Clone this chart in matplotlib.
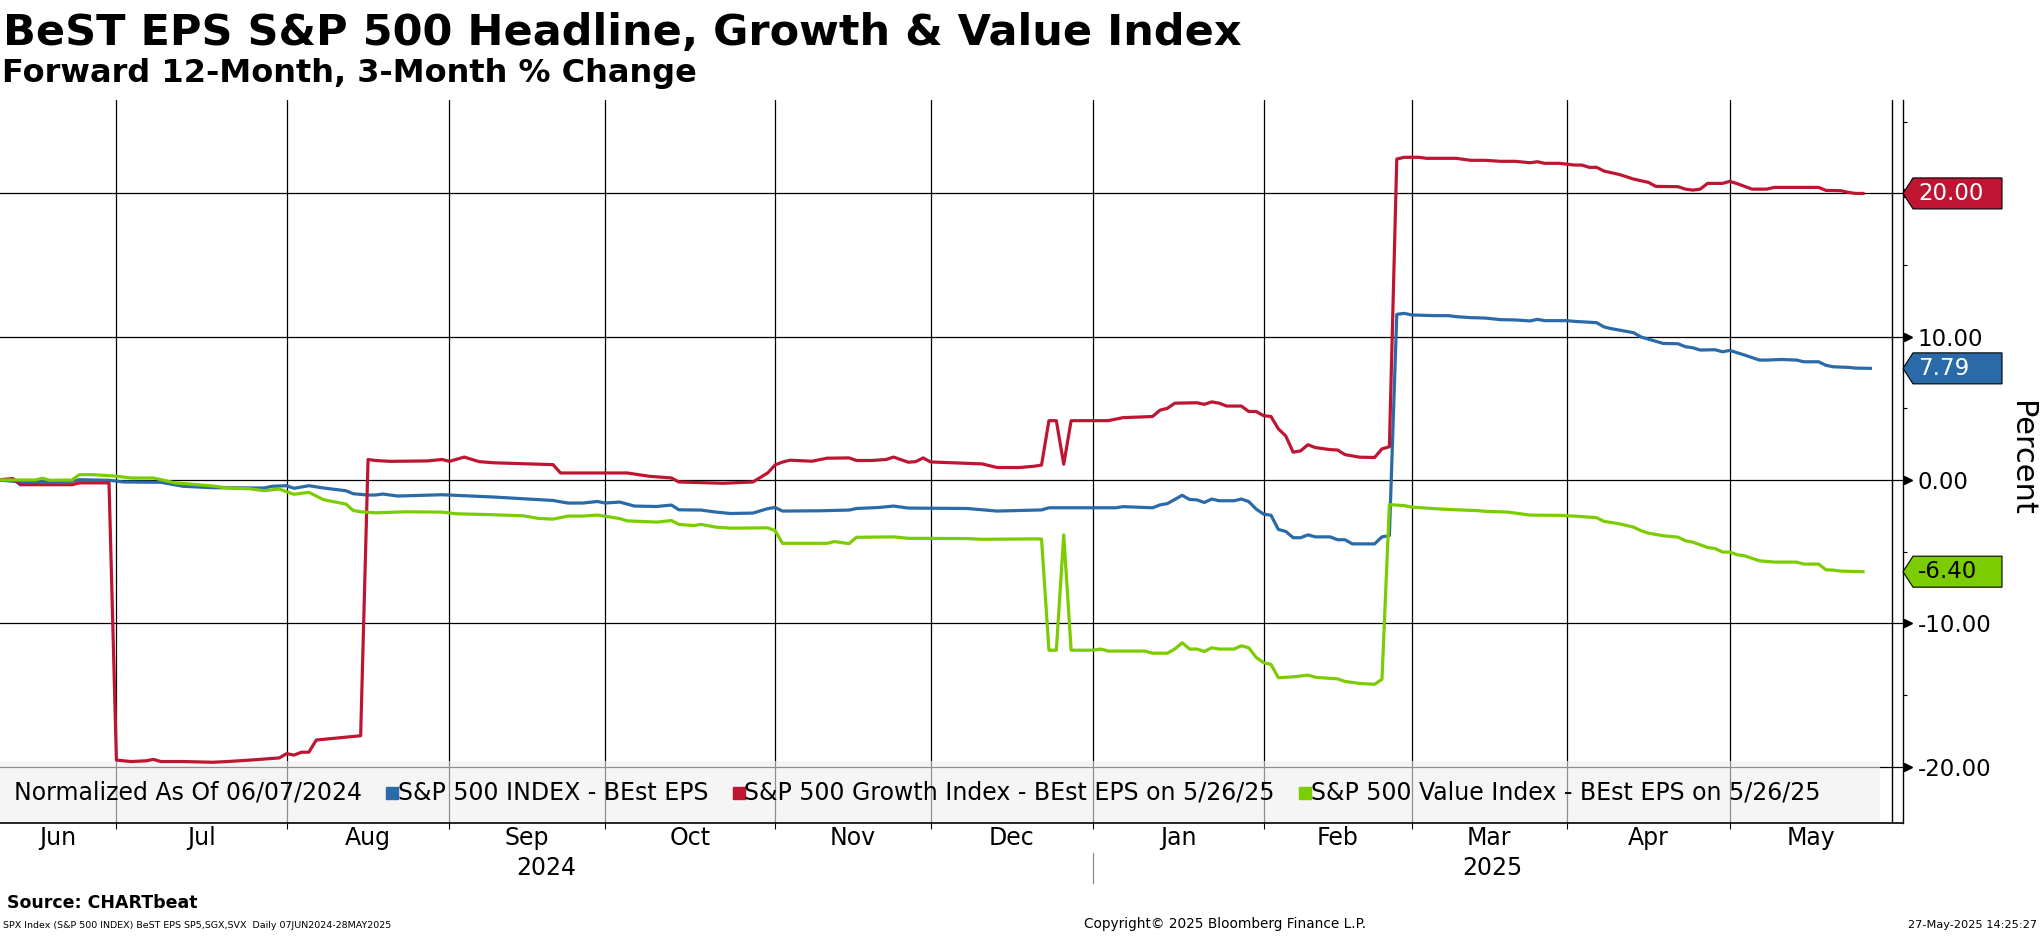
import numpy as np
import matplotlib

matplotlib.use("Agg")
import matplotlib.pyplot as plt
from matplotlib.patches import Polygon, Rectangle
from matplotlib.transforms import IdentityTransform, blended_transform_factory

START = "2024-06-07"

# S&P 500 INDEX - BEst EPS (normalized, % change)
spx_dates = [
    "2024-06-07", "2024-06-11", "2024-06-12", "2024-06-21", "2024-06-24", "2024-06-28",
    "2024-07-02", "2024-07-09", "2024-07-12", "2024-07-18", "2024-07-29", "2024-07-30",
    "2024-08-01", "2024-08-02", "2024-08-06", "2024-08-08", "2024-08-13", "2024-08-14",
    "2024-08-16", "2024-08-19", "2024-08-20", "2024-08-22", "2024-08-30", "2024-09-10",
    "2024-09-20", "2024-09-24", "2024-09-26", "2024-09-30", "2024-10-01", "2024-10-03",
    "2024-10-07", "2024-10-10", "2024-10-14", "2024-10-15", "2024-10-18", "2024-10-22",
    "2024-10-24", "2024-10-29", "2024-10-31", "2024-11-01", "2024-11-04", "2024-11-11",
    "2024-11-15", "2024-11-18", "2024-11-21", "2024-11-25", "2024-11-27", "2024-12-09",
    "2024-12-13", "2024-12-18", "2024-12-23", "2024-12-24", "2025-01-06", "2025-01-07",
    "2025-01-13", "2025-01-14", "2025-01-15", "2025-01-17", "2025-01-20", "2025-01-21",
    "2025-01-22", "2025-01-23", "2025-01-24", "2025-01-28", "2025-01-29", "2025-01-30",
    "2025-01-31", "2025-02-03", "2025-02-04", "2025-02-05", "2025-02-06", "2025-02-07",
    "2025-02-10", "2025-02-11", "2025-02-12", "2025-02-14", "2025-02-17", "2025-02-18",
    "2025-02-19", "2025-02-24", "2025-02-25", "2025-02-26", "2025-02-27", "2025-02-28",
    "2025-03-03", "2025-03-06", "2025-03-10", "2025-03-11", "2025-03-13", "2025-03-17",
    "2025-03-19", "2025-03-21", "2025-03-25", "2025-03-26", "2025-03-27", "2025-04-01",
    "2025-04-02", "2025-04-07", "2025-04-08", "2025-04-09", "2025-04-14", "2025-04-15",
    "2025-04-18", "2025-04-22", "2025-04-23", "2025-04-24", "2025-04-25", "2025-04-29",
    "2025-04-30", "2025-05-01", "2025-05-02", "2025-05-05", "2025-05-07", "2025-05-08",
    "2025-05-12", "2025-05-14", "2025-05-15", "2025-05-19", "2025-05-20", "2025-05-21",
    "2025-05-23", "2025-05-26", "2025-05-27", "2025-05-28",
]
spx_values = [
    0.00, -0.09, -0.14, -0.09, 0.02, -0.02,
    -0.14, -0.16, -0.44, -0.54, -0.56, -0.44,
    -0.40, -0.58, -0.40, -0.56, -0.75, -0.96,
    -1.05, -1.05, -0.98, -1.12, -1.03, -1.19,
    -1.43, -1.61, -1.61, -1.50, -1.61, -1.54,
    -1.82, -1.85, -1.75, -2.08, -2.10, -2.24,
    -2.34, -2.31, -2.00, -1.92, -2.17, -2.15,
    -2.10, -1.99, -1.92, -1.82, -1.96, -1.99,
    -2.17, -2.13, -2.09, -1.94, -1.94, -1.86,
    -1.94, -1.74, -1.65, -1.07, -1.36, -1.39,
    -1.57, -1.33, -1.45, -1.45, -1.33, -1.51,
    -2.03, -2.38, -2.46, -3.45, -3.59, -4.03,
    -4.03, -3.83, -3.97, -3.97, -4.17, -4.17,
    -4.46, -4.46, -3.97, -3.88, 11.56, 11.63,
    11.52, 11.47, 11.47, 11.40, 11.33, 11.30,
    11.19, 11.17, 11.10, 11.21, 11.12, 11.12,
    11.07, 10.98, 10.68, 10.56, 10.28, 9.98,
    9.53, 9.51, 9.30, 9.23, 9.07, 9.09,
    8.95, 9.04, 8.88, 8.72, 8.37, 8.37,
    8.41, 8.37, 8.25, 8.25, 8.00, 7.90,
    7.86, 7.81, 7.80, 7.79,
]

# S&P 500 Growth Index - BEst EPS
growth_dates = [
    "2024-06-07", "2024-06-11", "2024-06-12", "2024-06-21", "2024-06-24", "2024-06-28",
    "2024-07-01", "2024-07-03", "2024-07-05", "2024-07-08", "2024-07-09", "2024-07-12",
    "2024-07-18", "2024-07-22", "2024-07-25", "2024-07-31", "2024-08-01", "2024-08-02",
    "2024-08-05", "2024-08-06", "2024-08-07", "2024-08-12", "2024-08-15", "2024-08-16",
    "2024-08-19", "2024-08-21", "2024-08-28", "2024-08-30", "2024-09-02", "2024-09-04",
    "2024-09-06", "2024-09-10", "2024-09-20", "2024-09-23", "2024-10-04", "2024-10-09",
    "2024-10-14", "2024-10-15", "2024-10-23", "2024-10-29", "2024-10-31", "2024-11-01",
    "2024-11-04", "2024-11-05", "2024-11-08", "2024-11-12", "2024-11-15", "2024-11-18",
    "2024-11-20", "2024-11-22", "2024-11-25", "2024-11-27", "2024-11-28", "2024-11-29",
    "2024-12-02", "2024-12-11", "2024-12-13", "2024-12-18", "2024-12-20", "2024-12-23",
    "2024-12-24", "2024-12-25", "2024-12-26", "2024-12-27", "2025-01-03", "2025-01-07",
    "2025-01-13", "2025-01-14", "2025-01-15", "2025-01-16", "2025-01-21", "2025-01-22",
    "2025-01-23", "2025-01-24", "2025-01-27", "2025-01-29", "2025-01-30", "2025-01-31",
    "2025-02-03", "2025-02-04", "2025-02-05", "2025-02-06", "2025-02-07", "2025-02-10",
    "2025-02-11", "2025-02-12", "2025-02-14", "2025-02-17", "2025-02-18", "2025-02-20",
    "2025-02-24", "2025-02-25", "2025-02-26", "2025-02-27", "2025-02-28", "2025-03-04",
    "2025-03-05", "2025-03-11", "2025-03-13", "2025-03-17", "2025-03-19", "2025-03-21",
    "2025-03-25", "2025-03-26", "2025-03-27", "2025-03-31", "2025-04-02", "2025-04-03",
    "2025-04-04", "2025-04-07", "2025-04-08", "2025-04-10", "2025-04-11", "2025-04-14",
    "2025-04-16", "2025-04-17", "2025-04-22", "2025-04-23", "2025-04-24", "2025-04-25",
    "2025-04-28", "2025-04-30", "2025-05-01", "2025-05-02", "2025-05-06", "2025-05-08",
    "2025-05-09", "2025-05-19", "2025-05-20", "2025-05-22", "2025-05-23", "2025-05-26",
    "2025-05-27",
]
growth_values = [
    0.00, 0.10, -0.33, -0.33, -0.20, -0.20,
    -19.55, -19.65, -19.60, -19.50, -19.65, -19.65,
    -19.70, -19.65, -19.55, -19.40, -19.10, -19.20,
    -19.00, -19.00, -18.15, -18.00, -17.85, 1.43,
    1.36, 1.30, 1.33, 1.43, 1.30, 1.60,
    1.28, 1.20, 1.07, 0.49, 0.49, 0.26,
    0.14, -0.14, -0.23, -0.14, 0.49, 1.05,
    1.25, 1.38, 1.31, 1.52, 1.54, 1.36,
    1.36, 1.43, 1.60, 1.24, 1.28, 1.54,
    1.26, 1.12, 0.87, 0.87, 0.96, 1.04,
    4.14, 4.14, 1.10, 4.14, 4.14, 4.35,
    4.43, 4.87, 5.00, 5.36, 5.39, 5.28,
    5.45, 5.36, 5.16, 5.16, 4.78, 4.78,
    4.49, 4.43, 3.57, 3.07, 1.94, 2.03,
    2.46, 2.26, 2.12, 2.09, 1.77, 1.59,
    1.57, 2.17, 2.32, 22.40, 22.52, 22.52,
    22.45, 22.45, 22.31, 22.31, 22.24, 22.24,
    22.14, 22.21, 22.10, 22.10, 21.98, 21.98,
    21.82, 21.82, 21.56, 21.33, 21.17, 21.00,
    20.77, 20.49, 20.47, 20.30, 20.23, 20.30,
    20.70, 20.70, 20.84, 20.68, 20.30, 20.30,
    20.42, 20.42, 20.21, 20.19, 20.07, 20.00,
    20.00,
]

# S&P 500 Value Index - BEst EPS
value_dates = [
    "2024-06-07", "2024-06-14", "2024-06-17", "2024-06-18", "2024-06-21", "2024-06-24",
    "2024-06-26", "2024-06-28", "2024-07-01", "2024-07-03", "2024-07-08", "2024-07-11",
    "2024-07-16", "2024-07-18", "2024-07-22", "2024-07-25", "2024-07-29", "2024-07-31",
    "2024-08-02", "2024-08-06", "2024-08-08", "2024-08-13", "2024-08-14", "2024-08-15",
    "2024-08-19", "2024-08-23", "2024-08-30", "2024-09-03", "2024-09-09", "2024-09-16",
    "2024-09-18", "2024-09-20", "2024-09-24", "2024-09-26", "2024-09-30", "2024-10-03",
    "2024-10-04", "2024-10-10", "2024-10-14", "2024-10-15", "2024-10-17", "2024-10-18",
    "2024-10-22", "2024-10-24", "2024-10-31", "2024-11-01", "2024-11-04", "2024-11-12",
    "2024-11-13", "2024-11-15", "2024-11-18", "2024-11-25", "2024-11-27", "2024-12-09",
    "2024-12-11", "2024-12-20", "2024-12-23", "2024-12-24", "2024-12-25", "2024-12-26",
    "2024-12-27", "2025-01-01", "2025-01-02", "2025-01-03", "2025-01-10", "2025-01-13",
    "2025-01-15", "2025-01-16", "2025-01-17", "2025-01-20", "2025-01-21", "2025-01-22",
    "2025-01-23", "2025-01-24", "2025-01-28", "2025-01-29", "2025-01-30", "2025-01-31",
    "2025-02-03", "2025-02-04", "2025-02-05", "2025-02-07", "2025-02-11", "2025-02-12",
    "2025-02-17", "2025-02-18", "2025-02-20", "2025-02-24", "2025-02-25", "2025-02-26",
    "2025-02-28", "2025-03-03", "2025-03-05", "2025-03-07", "2025-03-12", "2025-03-14",
    "2025-03-17", "2025-03-20", "2025-03-21", "2025-03-25", "2025-03-31", "2025-04-02",
    "2025-04-07", "2025-04-08", "2025-04-10", "2025-04-14", "2025-04-15", "2025-04-16",
    "2025-04-18", "2025-04-22", "2025-04-23", "2025-04-24", "2025-04-28", "2025-04-29",
    "2025-04-30", "2025-05-01", "2025-05-02", "2025-05-05", "2025-05-07", "2025-05-09",
    "2025-05-14", "2025-05-15", "2025-05-19", "2025-05-20", "2025-05-21", "2025-05-22",
    "2025-05-27",
]
value_values = [
    0.00, 0.00, 0.12, -0.02, 0.00, 0.37,
    0.37, 0.30, 0.26, 0.14, 0.14, -0.21,
    -0.33, -0.42, -0.56, -0.61, -0.75, -0.63,
    -1.00, -0.86, -1.38, -1.68, -2.13, -2.22,
    -2.29, -2.22, -2.24, -2.36, -2.41, -2.50,
    -2.68, -2.73, -2.52, -2.52, -2.45, -2.69,
    -2.85, -2.94, -2.83, -3.10, -3.18, -3.10,
    -3.29, -3.36, -3.34, -3.53, -4.42, -4.42,
    -4.30, -4.44, -4.00, -3.97, -4.07, -4.09,
    -4.14, -4.11, -4.12, -11.88, -11.88, -3.83,
    -11.88, -11.88, -11.80, -11.94, -11.94, -12.09,
    -12.09, -11.80, -11.36, -11.80, -11.80, -11.97,
    -11.71, -11.80, -11.80, -11.57, -11.71, -12.38,
    -12.75, -12.87, -13.80, -13.74, -13.62, -13.77,
    -13.88, -14.06, -14.20, -14.26, -13.91, -1.72,
    -1.79, -1.89, -1.96, -2.03, -2.10, -2.14,
    -2.19, -2.24, -2.31, -2.45, -2.47, -2.52,
    -2.63, -2.89, -3.05, -3.29, -3.54, -3.71,
    -3.89, -3.99, -4.24, -4.34, -4.71, -4.78,
    -5.03, -5.03, -5.22, -5.29, -5.64, -5.73,
    -5.73, -5.87, -5.87, -6.27, -6.29, -6.36,
    -6.40,
]

series_names = [
    "S&P 500 INDEX - BEst EPS",
    "S&P 500 Growth Index - BEst EPS on 5/26/25",
    "S&P 500 Value Index - BEst EPS on 5/26/25",
]
month_starts = [
    "2024-07-01", "2024-08-01", "2024-09-01", "2024-10-01", "2024-11-01", "2024-12-01",
    "2025-01-01", "2025-02-01", "2025-03-01", "2025-04-01", "2025-05-01",
]
month_labels = ["Jun", "Jul", "Aug", "Sep", "Oct", "Nov", "Dec", "Jan", "Feb", "Mar", "Apr", "May"]
year_labels = ["2024", "2025"]
y_ticks = [-20, -10, 0, 10, 20]
y_minor = [-15, -5, 5, 15, 25]

BLUE = "#2A6AA9"
RED = "#BE1632"
GREEN = "#7BCC00"


def pos(dates):
    # x axis runs on weekdays, counted from the normalisation date
    return np.busday_count(START, np.array(dates, dtype="datetime64[D]"))


W, H = 2041, 936
fig = plt.figure(figsize=(W / 100, H / 100), dpi=100)
plt.rcParams["font.family"] = ["DejaVu Sans"]

ax_left, ax_right, ax_top, ax_bottom = 0, 1903, 100, 823
ax = fig.add_axes([ax_left / W, 1 - ax_bottom / H, (ax_right - ax_left) / W, (ax_bottom - ax_top) / H])
x_lo, x_hi = 0.27, 257.4
frame_x = 255.9
ax.set_xlim(x_lo, x_hi)
ax.set_ylim(-23.94, 26.52)

for s in ["left", "top"]:
    ax.spines[s].set_visible(False)
ax.spines["right"].set_linewidth(1.0)
ax.spines["bottom"].set_linewidth(1.2)

month_pos = pos(month_starts)
for p in month_pos:
    ax.axvline(p, color="black", lw=0.9, zorder=1)
for v in y_ticks:
    ax.axhline(v, color="black", lw=0.9, zorder=1)
ax.axvline(frame_x, color="black", lw=1.0, zorder=1)

ax.plot(pos(spx_dates), spx_values, color=BLUE, lw=2.3, zorder=3)
ax.plot(pos(growth_dates), growth_values, color=RED, lw=2.3, zorder=3)
ax.plot(pos(value_dates), value_values, color=GREEN, lw=2.3, zorder=3)

# y axis on the right
ax.yaxis.tick_right()
ax.set_yticks(y_ticks)
ax.set_yticklabels([f"{v:.2f}" for v in y_ticks])
ax.set_yticks(y_minor, minor=True)
ax.tick_params(axis="y", which="major", length=0, pad=10.5, labelsize=16.5)
ax.tick_params(axis="y", which="minor", length=3, width=0.8, direction="out")
axw = ax_right - ax_left
yblend = blended_transform_factory(ax.transAxes, ax.transData)
ax.plot([1 + 5 / axw] * len(y_ticks), y_ticks, ls="none", marker=">", ms=6, color="black",
        transform=yblend, clip_on=False, zorder=5)

# x axis: ticks at month starts, labels in between
ax.set_xticks(month_pos)
ax.set_xticklabels([])
ax.tick_params(axis="x", which="major", length=4, width=0.8, direction="out")
edges = [x_lo] + list(month_pos) + [frame_x]
xblend = blended_transform_factory(ax.transData, ax.transAxes)
axh = ax_bottom - ax_top
for i, lab in enumerate(month_labels):
    ax.text((edges[i] + edges[i + 1]) / 2, -15 / axh, lab, transform=xblend,
            ha="center", va="center", fontsize=17)
jan = pos(["2025-01-01"])[0]
ax.text((x_lo + jan) / 2, -45 / axh, year_labels[0], transform=xblend, ha="center", va="center", fontsize=17)
ax.text((jan + frame_x) / 2, -45 / axh, year_labels[1], transform=xblend, ha="center", va="center", fontsize=17)
ax.plot([jan, jan], [-30 / axh, -60 / axh], color="#808080", lw=0.8, transform=xblend, clip_on=False)

# legend strip inside the bottom of the plot
leg_h = (ax_bottom - 761) / axh
ax.add_patch(Rectangle((0, 0), 1880 / axw, leg_h, transform=ax.transAxes, facecolor="#efefef",
                       edgecolor="none", alpha=0.6, zorder=2))
renderer = fig.canvas.get_renderer()
leg_tr = blended_transform_factory(IdentityTransform(), ax.transAxes)
leg_y = (ax_bottom - 793) / axh
t = ax.text(14, leg_y, "Normalized As Of 06/07/2024", transform=leg_tr, va="center", fontsize=17, zorder=4)
cursor = t.get_window_extent(renderer).x1
for name, col in zip(series_names, [BLUE, RED, GREEN]):
    cursor += 25
    ax.plot([cursor + 5], [leg_y], marker="s", ms=8, color=col, transform=leg_tr, clip_on=False, zorder=4)
    t = ax.text(cursor + 11, leg_y, name, transform=leg_tr, va="center", fontsize=17, zorder=4)
    cursor = t.get_window_extent(renderer).x1

# last value tags
half = 15.5 / (axh / (26.52 + 23.94))
for vals, col, txt_col in [(growth_values, RED, "white"), (spx_values, BLUE, "white"),
                           (value_values, GREEN, "black")]:
    v = vals[-1]
    x1, x2 = 1 + 10 / axw, 1 + 99 / axw
    ax.add_patch(Polygon([(1, v), (x1, v + half), (x2, v + half), (x2, v - half), (x1, v - half)],
                         closed=True, transform=yblend, facecolor=col, edgecolor="black", lw=0.8,
                         clip_on=False, zorder=6))
    ax.text(1 + 15 / axw, v, f"{v:.2f}", transform=yblend, color=txt_col, ha="left", va="center",
            fontsize=16.5, zorder=7, clip_on=False)

fig.text(2022 / W, 1 - 458 / H, "Percent", rotation=-90, ha="center", va="center", fontsize=22)

fig.text(3 / W, 1 - 45 / H, "BeST EPS S&P 500 Headline, Growth & Value Index", fontsize=31,
         fontweight="bold", va="baseline")
fig.text(2 / W, 1 - 82 / H, "Forward 12-Month, 3-Month % Change", fontsize=23, fontweight="bold",
         va="baseline")
fig.text(7 / W, 1 - 908 / H, "Source: CHARTbeat", fontsize=12.5, fontweight="bold", va="baseline")
fig.text(3 / W, 1 - 928 / H, "SPX Index (S&P 500 INDEX) BeST EPS SP5,SGX,SVX  Daily 07JUN2024-28MAY2025",
         fontsize=6.8, va="baseline")
fig.text(1225 / W, 1 - 928 / H, "Copyright\u00a9 2025 Bloomberg Finance L.P.", fontsize=9.8,
         ha="center", va="baseline")
fig.text(2037 / W, 1 - 928 / H, "27-May-2025 14:25:27", fontsize=8.2, ha="right", va="baseline")

fig.savefig("out.png", dpi=100)
